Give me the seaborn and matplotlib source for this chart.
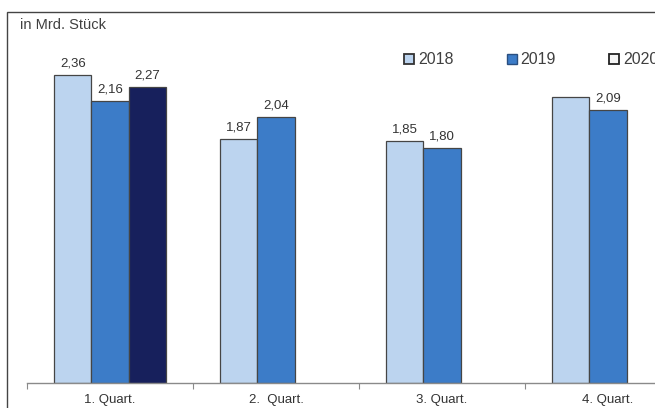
import numpy as np
import pandas as pd
import matplotlib
matplotlib.use("Agg")
import matplotlib.pyplot as plt
from matplotlib.lines import Line2D
from matplotlib.patches import Rectangle
import seaborn as sns

# Quarterly figures, in billions of pieces
quarters = ["1. Quart.", "2.  Quart.", "3. Quart.", "4. Quart."]
years = ["2018", "2019", "2020"]
values_2018 = [2.36, 1.87, 1.85, 2.19]
values_2019 = [2.16, 2.04, 1.80, 2.09]
values_2020 = [2.27, np.nan, np.nan, np.nan]
# the 4th-quarter 2018 bar carries no value label
labelled_2018 = [True, True, True, False]

colors = {"2018": "#bcd4ef", "2019": "#3c7cc8", "2020": "#17205c"}
text_color = "#333333"

df = pd.DataFrame({
    "Quartal": quarters * 3,
    "Jahr": ["2018"] * 4 + ["2019"] * 4 + ["2020"] * 4,
    "Wert": values_2018 + values_2019 + values_2020,
})

sns.set_theme(style="white")
plt.rcParams["font.family"] = ["Liberation Sans", "DejaVu Sans"]

W, H = 655, 408
fig = plt.figure(figsize=(W / 100, H / 100), dpi=100)

# plot area: baseline at y=383 px, first group starts at x=27 px, group width 166 px
ax = fig.add_axes([27 / W, 25 / H, 664 / W, 359 / H])

sns.barplot(
    data=df, x="Quartal", y="Wert", hue="Jahr",
    order=quarters, hue_order=years, palette=colors, saturation=1,
    errorbar=None, width=0.67, edgecolor="#454545", linewidth=0.9,
    ax=ax, legend=False,
)

ax.set_xlim(-0.5, 3.5)
ax.set_ylim(0, 2.75)
ax.set_xlabel("")
ax.set_ylabel("")
ax.set_yticks([])
for side in ("left", "right", "top"):
    ax.spines[side].set_visible(False)
ax.spines["bottom"].set_color("#8a8a8a")
ax.spines["bottom"].set_linewidth(1.0)

ax.set_xticks(range(len(quarters)))
ax.set_xticklabels(quarters, fontsize=9.5, color=text_color)
ax.tick_params(axis="x", which="major", length=0, pad=8)
ax.set_xticks(np.arange(-0.5, 4.0, 1.0), minor=True)
ax.tick_params(axis="x", which="minor", length=4, width=0.8, color="#8a8a8a", bottom=True)

# value labels with decimal comma, placed above each drawn bar
series_vals = {"2018": values_2018, "2019": values_2019, "2020": values_2020}
for cont, year in zip(ax.containers, years):
    vals = series_vals[year]
    for bar in cont:
        if bar is None:
            continue
        qi = int(round(bar.get_x() + bar.get_width() / 2))
        v = vals[qi]
        if np.isnan(v) or (year == "2018" and not labelled_2018[qi]):
            continue
        ax.annotate(f"{v:.2f}".replace(".", ","),
                    xy=(bar.get_x() + bar.get_width() / 2, v),
                    xytext=(0, 4), textcoords="offset points",
                    ha="center", va="bottom", fontsize=9.5, color=text_color)

# unit note
fig.text(20 / W, 1 - 25 / H, "in Mrd. Stück", fontsize=10.5, color="#404040",
         ha="left", va="center")

# legend
handles = [
    Line2D([], [], marker="s", linestyle="none", markersize=6.5,
           markerfacecolor=colors["2018"], markeredgecolor="#333333", markeredgewidth=1.3),
    Line2D([], [], marker="s", linestyle="none", markersize=6.5,
           markerfacecolor=colors["2019"], markeredgecolor="#2a4f80", markeredgewidth=1.0),
    Line2D([], [], marker="s", linestyle="none", markersize=6.5,
           markerfacecolor="#f4f4f4", markeredgecolor="#222222", markeredgewidth=1.3),
]
fig.legend(handles, years, loc="center left",
           bbox_to_anchor=(405 / W, 1 - 60 / H), ncol=3, frameon=False,
           fontsize=11.5, handlelength=0.5, handletextpad=0.3, columnspacing=3.4,
           borderpad=0, borderaxespad=0, labelcolor="#404040")

# outer frame
fig.add_artist(Rectangle((7 / W, -0.2), 1.2, 1.2 - 12 / H, transform=fig.transFigure,
                         fill=False, edgecolor="#444444", linewidth=1.0))

fig.savefig("out.png", dpi=100)
